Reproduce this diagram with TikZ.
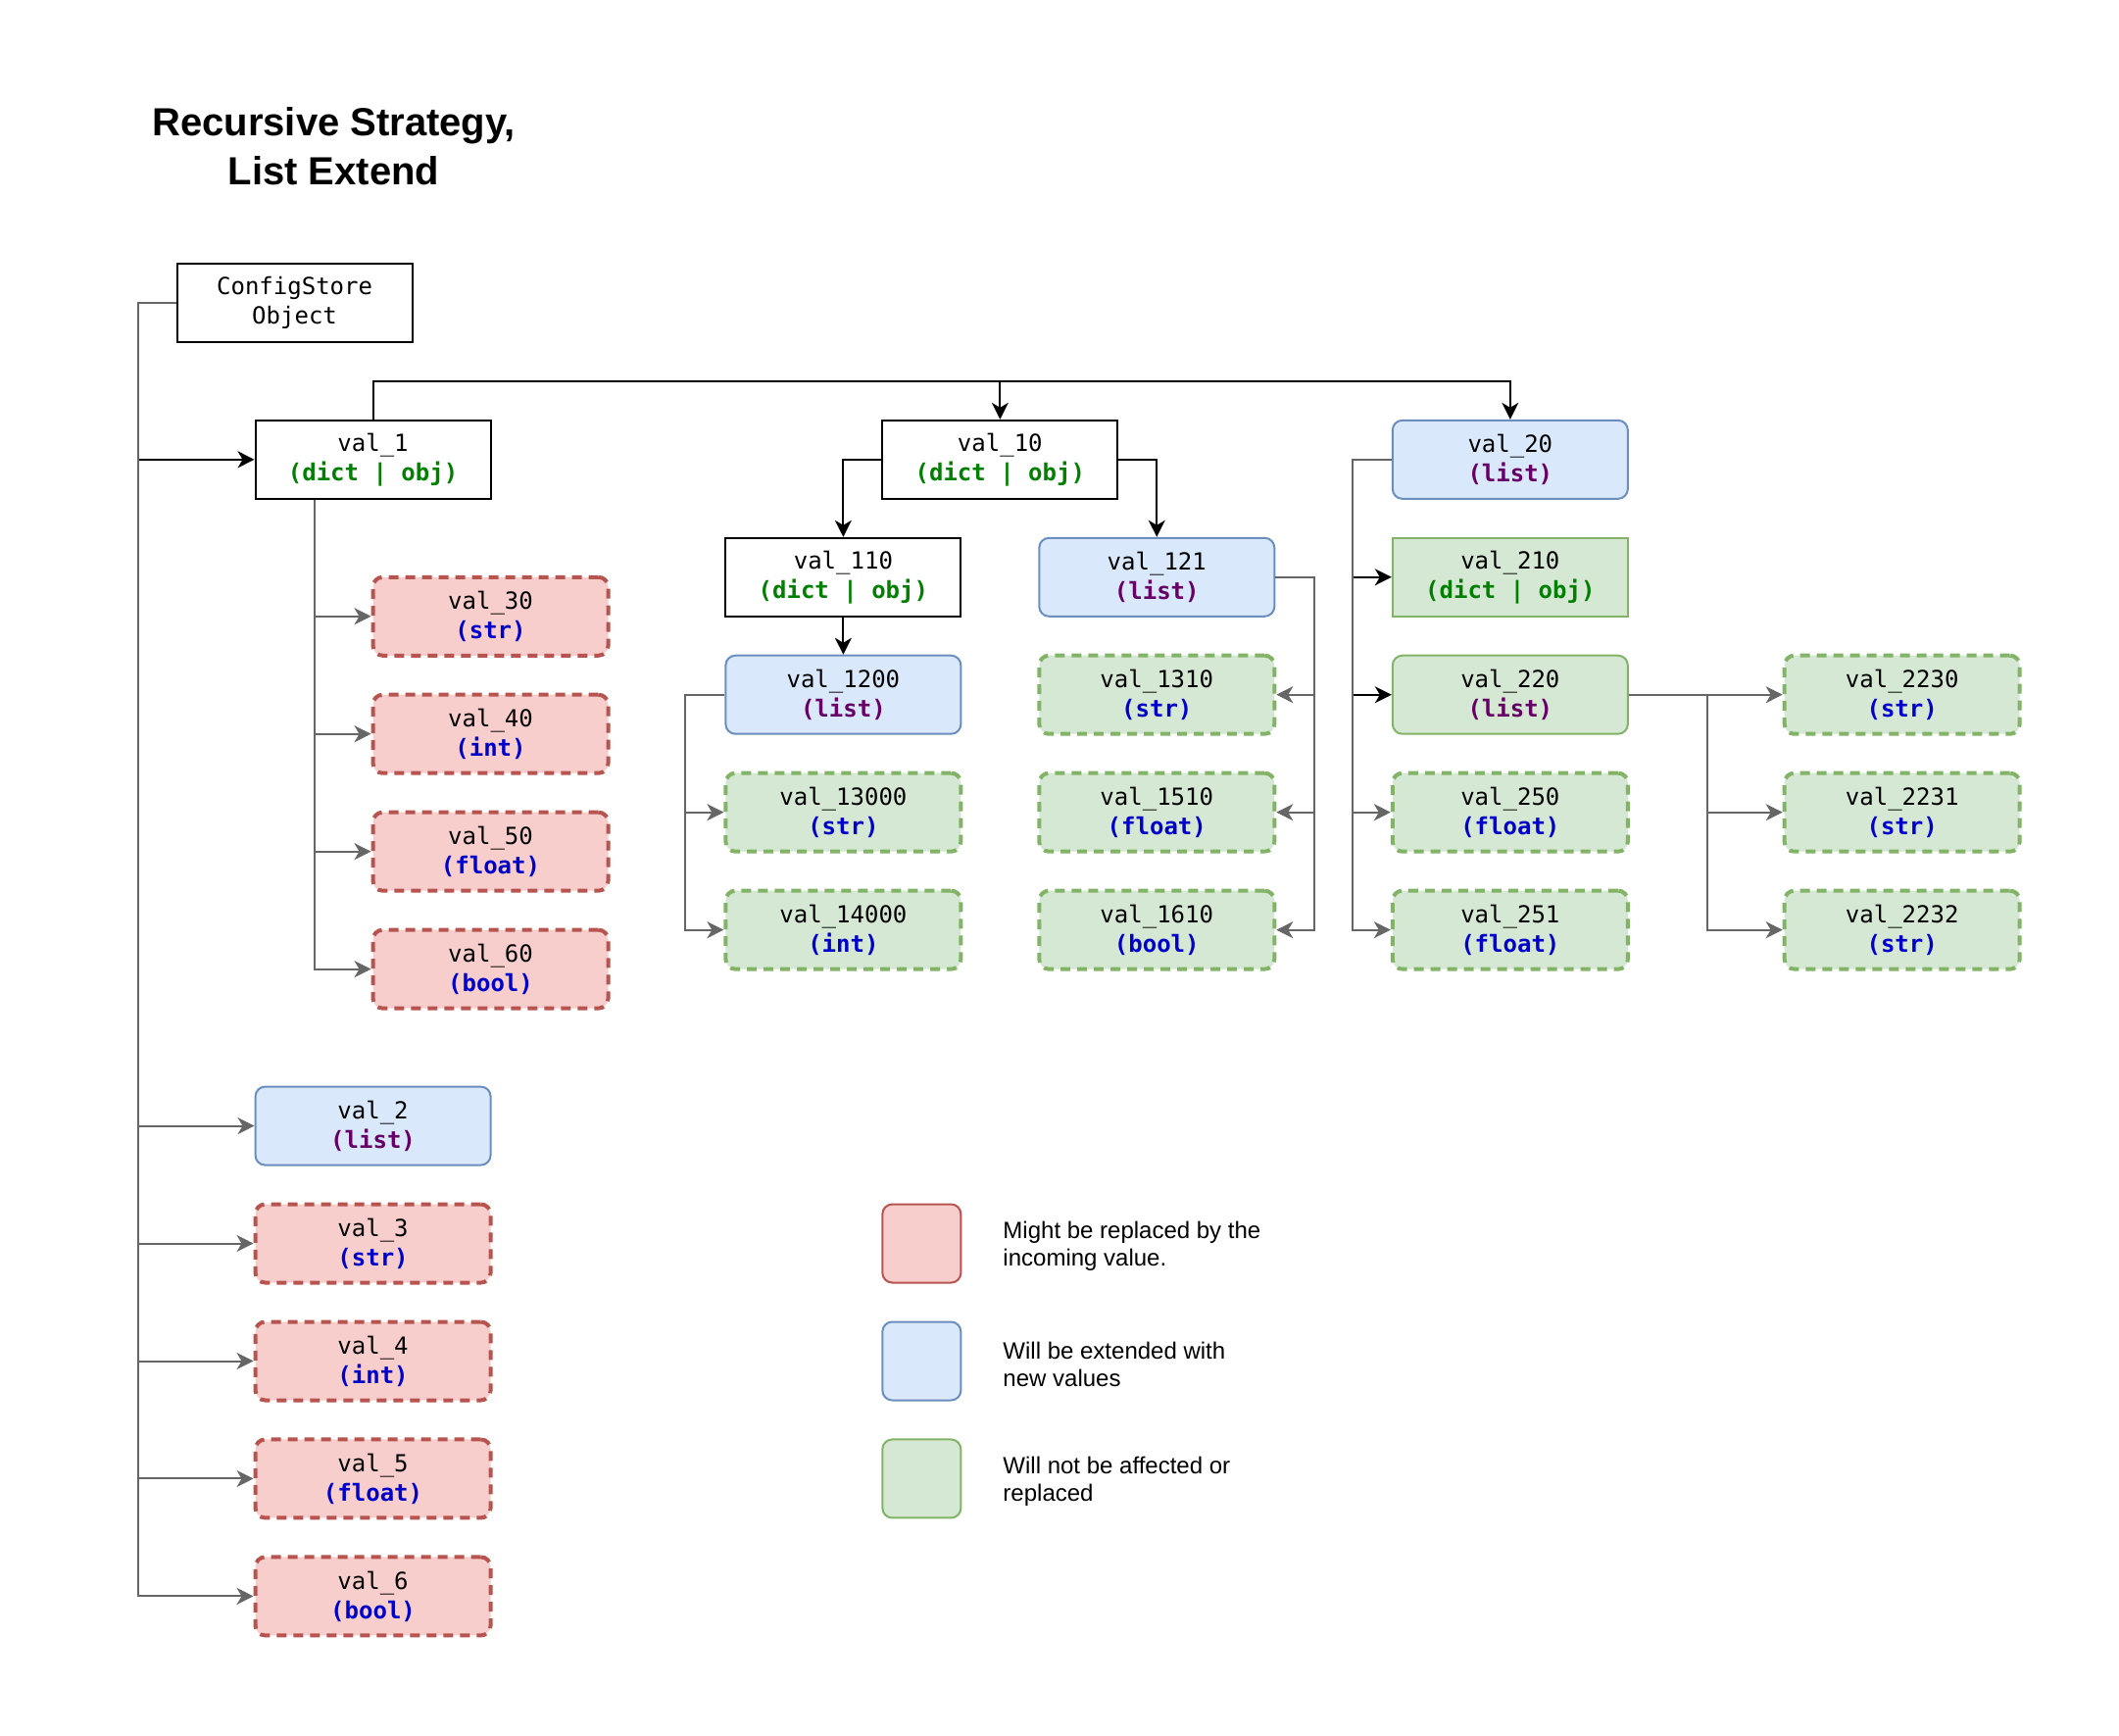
\documentclass[tikz,border=0pt]{standalone}
\usepackage{fontspec}
\setmainfont{Liberation Sans}
\newfontfamily\monof{DejaVu Sans Mono}
\usetikzlibrary{arrows.meta}
\definecolor{redfill}{HTML}{F8CECC}
\definecolor{redline}{HTML}{B85450}
\definecolor{bluefill}{HTML}{DAE8FC}
\definecolor{blueline}{HTML}{6C8EBF}
\definecolor{grnfill}{HTML}{D5E8D4}
\definecolor{grnline}{HTML}{82B366}
\definecolor{edgegray}{HTML}{666666}
\definecolor{tdict}{HTML}{007F00}
\definecolor{tlist}{HTML}{660066}
\definecolor{tscal}{HTML}{0000CC}
\newcommand{\tyd}{\textcolor{tdict}{\bfseries(dict | obj)}}
\newcommand{\tyl}{\textcolor{tlist}{\bfseries(list)}}
\newcommand{\tys}[1]{\textcolor{tscal}{\bfseries(#1)}}
\tikzset{
  vbox/.style={minimum width=120pt, minimum height=40pt, inner sep=0pt, align=center,
    font=\monof\fontsize{12}{15}\selectfont, line width=1pt},
  plainbox/.style={vbox, draw=black, fill=white},
  redbox/.style={vbox, draw=redline, fill=redfill, rounded corners=5pt, line width=2pt, dash pattern=on 5pt off 3.5pt},
  bluebox/.style={vbox, draw=blueline, fill=bluefill, rounded corners=5pt},
  grnrect/.style={vbox, draw=grnline, fill=grnfill},
  grnbox/.style={vbox, draw=grnline, fill=grnfill, rounded corners=5pt},
  grndash/.style={vbox, draw=grnline, fill=grnfill, rounded corners=5pt, line width=2pt, dash pattern=on 5pt off 3.5pt},
  legsq/.style={minimum width=40pt, minimum height=40pt, inner sep=0pt, rounded corners=5pt, line width=1pt},
  legtxt/.style={anchor=west, align=left, inner sep=0pt, yshift=-1.6pt, font=\fontsize{12}{14}\selectfont},
  arr/.tip={Stealth[length=8.5pt,width=8.5pt,inset=2.5pt]},
  gline/.style={draw=edgegray, line width=1pt, -arr},
  bline/.style={draw=black, line width=1pt, -arr},
}
\begin{document}
\begin{tikzpicture}[x=0.68942pt, y=-0.68942pt]
\useasboundingbox (0,0) rectangle (1568,1283.7);
\fill[white] (0,0) rectangle (1568,1283.7);

\node[align=center, font=\bfseries\fontsize{20}{25}\selectfont] (title) at (247,108.5) {Recursive Strategy,\\List Extend};

\node[plainbox] (cfg) at (218,224) {ConfigStore\\Object};
\node[plainbox] (v1) at (276,340) {val\_1\\\tyd};
\node[redbox] (v30) at (363,456) {val\_30\\\tys{str}};
\node[redbox] (v40) at (363,543) {val\_40\\\tys{int}};
\node[redbox] (v50) at (363,630) {val\_50\\\tys{float}};
\node[redbox] (v60) at (363,717) {val\_60\\\tys{bool}};
\node[bluebox] (v2) at (276,833) {val\_2\\\tyl};
\node[redbox] (v3) at (276,920) {val\_3\\\tys{str}};
\node[redbox] (v4) at (276,1007) {val\_4\\\tys{int}};
\node[redbox] (v5) at (276,1094) {val\_5\\\tys{float}};
\node[redbox] (v6) at (276,1181) {val\_6\\\tys{bool}};

\node[plainbox] (v10) at (740,340) {val\_10\\\tyd};
\node[plainbox] (v110) at (624,427) {val\_110\\\tyd};
\node[bluebox] (v121) at (856,427) {val\_121\\\tyl};
\node[bluebox] (v1200) at (624,514) {val\_1200\\\tyl};
\node[grndash] (v13000) at (624,601) {val\_13000\\\tys{str}};
\node[grndash] (v14000) at (624,688) {val\_14000\\\tys{int}};
\node[grndash] (v1310) at (856,514) {val\_1310\\\tys{str}};
\node[grndash] (v1510) at (856,601) {val\_1510\\\tys{float}};
\node[grndash] (v1610) at (856,688) {val\_1610\\\tys{bool}};

\node[bluebox] (v20) at (1117.5,340) {val\_20\\\tyl};
\node[grnrect] (v210) at (1117.5,427) {val\_210\\\tyd};
\node[grnbox] (v220) at (1117.5,514) {val\_220\\\tyl};
\node[grndash] (v250) at (1117.5,601) {val\_250\\\tys{float}};
\node[grndash] (v251) at (1117.5,688) {val\_251\\\tys{float}};
\node[grndash] (v2230) at (1407.5,514) {val\_2230\\\tys{str}};
\node[grndash] (v2231) at (1407.5,601) {val\_2231\\\tys{str}};
\node[grndash] (v2232) at (1407.5,688) {val\_2232\\\tys{str}};

\node[legsq, draw=redline, fill=redfill] (lg1) at (682,920) {};
\node[legsq, draw=blueline, fill=bluefill] (lg2) at (682,1007) {};
\node[legsq, draw=grnline, fill=grnfill] (lg3) at (682,1094) {};
\node[legtxt] (lt1) at (742,920) {Might be replaced by the\\incoming value.};
\node[legtxt] (lt2) at (742,1007) {Will be extended with\\new values};
\node[legtxt] (lt3) at (742,1094) {Will not be affected or\\replaced};

% connectors
\coordinate (trunk) at (102,0);
\coordinate (topbar) at (0,282);
\draw[bline] (cfg.west) -- (cfg.west -| trunk) |- (v1.west);
\foreach \t in {v2,v3,v4,v5,v6}
  \draw[gline] (cfg.west) -- (cfg.west -| trunk) |- (\t.west);
\foreach \t in {v30,v40,v50,v60}
  \draw[gline] ([xshift=-30pt]v1.south) |- (\t.west);
\draw[bline] (v1.north) -- (v1.north |- topbar) -| (v10.north);
\draw[bline] (v1.north) -- (v1.north |- topbar) -| (v20.north);
\draw[bline] (v10.west) -| (v110.north);
\draw[bline] (v10.east) -| (v121.north);
\draw[bline] (v110.south) -- (v1200.north);
\foreach \t in {v13000,v14000}
  \draw[gline] (v1200.west) -- ++(-20pt,0) |- (\t.west);
\foreach \t in {v1310,v1510,v1610}
  \draw[gline] (v121.east) -- ++(20pt,0) |- (\t.east);
\foreach \t in {v210,v220}
  \draw[bline] (v20.west) -- ++(-20pt,0) |- (\t.west);
\foreach \t in {v250,v251}
  \draw[gline] (v20.west) -- ++(-20pt,0) |- (\t.west);
\foreach \t in {v2230,v2231,v2232}
  \draw[gline] (v220.east) -- ++(40pt,0) |- (\t.west);
\end{tikzpicture}
\end{document}
